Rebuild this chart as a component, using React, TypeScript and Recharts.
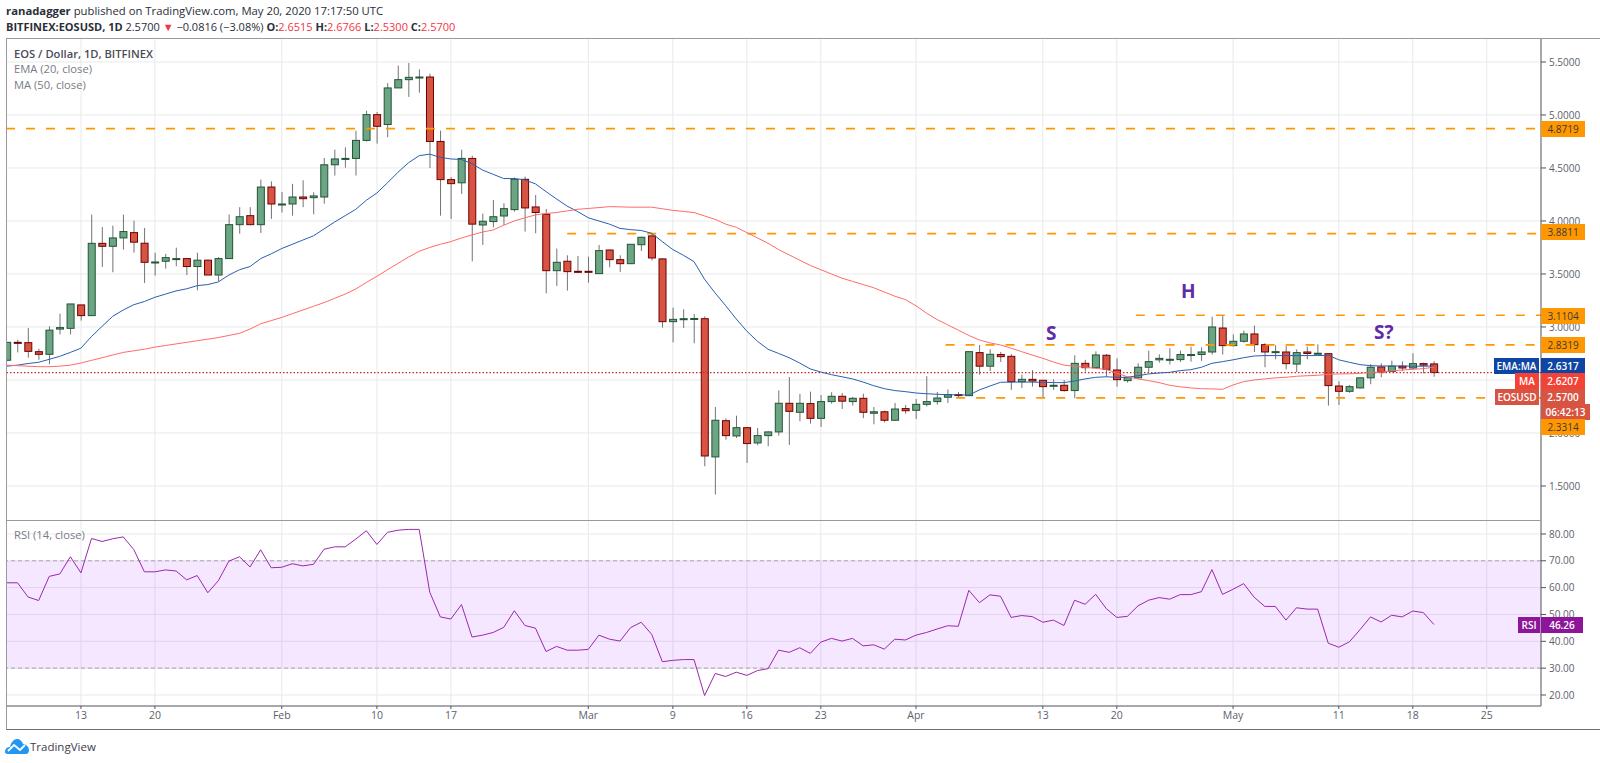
import { Bar, CartesianGrid, ComposedChart, Line, ReferenceArea, ReferenceLine, XAxis, YAxis } from "recharts";

// one row per ten days, first candle is Jan 6
const opens = [
  2.686, 2.855, 2.852, 2.767, 2.742, 2.98, 2.987, 3.208, 3.107, 3.789,
  3.761, 3.84, 3.89, 3.79, 3.61, 3.62, 3.645, 3.645, 3.57, 3.63,
  3.49, 3.645, 3.965, 4.05, 3.965, 4.32, 4.16, 4.16, 4.226, 4.22,
  4.226, 4.53, 4.585, 4.59, 4.76, 5.003, 4.91, 5.255, 5.333, 5.358,
  5.358, 4.75, 4.39, 4.36, 4.59, 3.962, 3.994, 4.047, 4.107, 4.393,
  4.132, 4.063, 3.531, 3.62, 3.525, 3.525, 3.503, 3.726, 3.635, 3.597,
  3.776, 3.859, 3.642, 3.05, 3.075, 3.08, 3.078, 1.774, 2.116, 1.972,
  2.05, 1.906, 1.975, 2.01, 2.28, 2.195, 2.277, 2.138, 2.296, 2.346,
  2.296, 2.327, 2.186, 2.2, 2.12, 2.23, 2.214, 2.27, 2.296, 2.337,
  2.362, 2.352, 2.758, 2.63, 2.74, 2.723, 2.484, 2.506, 2.497, 2.45,
  2.45, 2.40, 2.657, 2.616, 2.733, 2.594, 2.494, 2.52, 2.62, 2.69,
  2.695, 2.692, 2.737, 2.74, 2.764, 2.99, 2.824, 2.865, 2.934, 2.833,
  2.767, 2.764, 2.65, 2.764, 2.752, 2.748, 2.443, 2.393, 2.425, 2.52,
  2.623, 2.58, 2.63, 2.613, 2.654, 2.6515,
];
const highs = [
  2.855, 2.88, 2.99, 2.795, 3.006, 3.126, 3.217, 3.208, 4.06, 3.943,
  3.956, 4.06, 4.003, 3.934, 3.70, 3.69, 3.748, 3.645, 3.70, 3.635,
  3.66, 4.06, 4.13, 4.13, 4.39, 4.374, 4.274, 4.35, 4.384, 4.27,
  4.594, 4.673, 4.695, 4.852, 5.04, 5.028, 5.30, 5.465, 5.49, 5.43,
  5.39, 4.852, 4.415, 4.673, 4.616, 4.07, 4.198, 4.167, 4.41, 4.418,
  4.245, 4.113, 3.739, 3.676, 3.67, 3.663, 3.773, 3.73, 3.676, 3.78,
  3.852, 3.884, 3.648, 3.182, 3.167, 3.123, 3.10, 2.245, 2.138, 2.163,
  2.05, 2.047, 2.016, 2.40, 2.528, 2.368, 2.39, 2.358, 2.384, 2.377,
  2.34, 2.371, 2.245, 2.21, 2.283, 2.264, 2.32, 2.535, 2.387, 2.41,
  2.387, 2.767, 2.83, 2.79, 2.764, 2.745, 2.55, 2.594, 2.497, 2.506,
  2.50, 2.733, 2.69, 2.77, 2.745, 2.704, 2.525, 2.657, 2.777, 2.742,
  2.80, 2.777, 2.814, 2.808, 3.097, 3.104, 2.93, 2.965, 3.013, 2.846,
  2.827, 2.82, 2.789, 2.814, 2.836, 2.75, 2.487, 2.453, 2.525, 2.65,
  2.657, 2.682, 2.676, 2.752, 2.663, 2.6766,
];
const lows = [
  2.68, 2.76, 2.71, 2.69, 2.648, 2.93, 2.93, 3.06, 3.107, 3.566,
  3.516, 3.73, 3.70, 3.415, 3.484, 3.55, 3.572, 3.49, 3.346, 3.49,
  3.43, 3.645, 3.88, 3.96, 3.887, 4.02, 4.08, 4.05, 4.13, 4.063,
  4.163, 4.428, 4.503, 4.428, 4.75, 4.73, 4.79, 5.255, 5.17, 5.21,
  4.5, 4.05, 4.02, 4.255, 3.62, 3.773, 3.94, 3.962, 4.088, 3.9,
  3.884, 3.318, 3.387, 3.343, 3.51, 3.418, 3.5, 3.563, 3.519, 3.595,
  3.717, 3.626, 2.994, 2.855, 2.99, 2.846, 1.686, 1.42, 1.937, 1.953,
  1.717, 1.884, 1.874, 1.975, 1.887, 2.11, 2.088, 2.057, 2.277, 2.226,
  2.258, 2.14, 2.082, 2.10, 2.115, 2.182, 2.132, 2.25, 2.267, 2.283,
  2.34, 2.35, 2.55, 2.585, 2.67, 2.406, 2.424, 2.437, 2.327, 2.406,
  2.39, 2.327, 2.58, 2.61, 2.53, 2.437, 2.475, 2.51, 2.575, 2.664,
  2.645, 2.67, 2.673, 2.68, 2.74, 2.74, 2.815, 2.852, 2.764, 2.62,
  2.695, 2.6, 2.575, 2.695, 2.74, 2.258, 2.264, 2.38, 2.42, 2.46,
  2.525, 2.575, 2.582, 2.6, 2.563, 2.53,
];
const closes = [
  2.855, 2.85, 2.77, 2.742, 2.97, 2.994, 3.217, 3.107, 3.789, 3.761,
  3.84, 3.90, 3.80, 3.61, 3.613, 3.654, 3.645, 3.57, 3.63, 3.49,
  3.645, 3.965, 4.04, 3.965, 4.32, 4.16, 4.16, 4.226, 4.21, 4.236,
  4.53, 4.585, 4.59, 4.76, 5.003, 4.893, 5.255, 5.333, 5.355, 5.358,
  4.75, 4.39, 4.352, 4.59, 3.97, 3.997, 4.04, 4.116, 4.393, 4.123,
  4.08, 3.531, 3.61, 3.522, 3.516, 3.522, 3.72, 3.635, 3.597, 3.78,
  3.846, 3.651, 3.05, 3.072, 3.078, 3.08, 1.783, 2.12, 1.975, 2.05,
  1.90, 1.975, 2.01, 2.28, 2.204, 2.28, 2.138, 2.296, 2.346, 2.30,
  2.327, 2.195, 2.2, 2.12, 2.226, 2.21, 2.27, 2.296, 2.33, 2.362,
  2.355, 2.767, 2.63, 2.742, 2.72, 2.484, 2.506, 2.49, 2.437, 2.45,
  2.40, 2.657, 2.616, 2.736, 2.6, 2.503, 2.525, 2.62, 2.673, 2.704,
  2.695, 2.74, 2.74, 2.764, 3.0, 2.824, 2.865, 2.934, 2.833, 2.764,
  2.767, 2.654, 2.758, 2.75, 2.752, 2.447, 2.393, 2.437, 2.52, 2.62,
  2.575, 2.63, 2.613, 2.654, 2.64, 2.57,
];
const ema20 = [
  2.63, 2.64, 2.655, 2.667, 2.695, 2.723, 2.76, 2.80, 2.91, 3.006,
  3.10, 3.16, 3.21, 3.24, 3.28, 3.31, 3.34, 3.36, 3.39, 3.40,
  3.425, 3.49, 3.54, 3.57, 3.645, 3.69, 3.74, 3.78, 3.82, 3.86,
  3.925, 3.99, 4.05, 4.11, 4.195, 4.264, 4.36, 4.46, 4.55, 4.616,
  4.63, 4.60, 4.585, 4.58, 4.54, 4.48, 4.44, 4.40, 4.40, 4.387,
  4.35, 4.277, 4.207, 4.14, 4.088, 4.03, 4.0, 3.97, 3.93, 3.918,
  3.91, 3.884, 3.805, 3.73, 3.676, 3.616, 3.45, 3.32, 3.2, 3.075,
  2.96, 2.865, 2.79, 2.75, 2.71, 2.66, 2.604, 2.575, 2.55, 2.53,
  2.51, 2.48, 2.446, 2.418, 2.40, 2.39, 2.377, 2.37, 2.365, 2.36,
  2.36, 2.358, 2.406, 2.443, 2.478, 2.48, 2.48, 2.48, 2.478, 2.475,
  2.475, 2.49, 2.51, 2.525, 2.53, 2.525, 2.525, 2.54, 2.557, 2.566,
  2.572, 2.588, 2.597, 2.62, 2.657, 2.673, 2.69, 2.71, 2.726, 2.73,
  2.73, 2.73, 2.73, 2.73, 2.73, 2.733, 2.69, 2.667, 2.645, 2.635,
  2.632, 2.632, 2.632, 2.63, 2.63, 2.6317,
];
const ma50 = [
  2.64, 2.635, 2.63, 2.625, 2.625, 2.63, 2.64, 2.66, 2.685, 2.71,
  2.735, 2.76, 2.775, 2.79, 2.81, 2.825, 2.84, 2.855, 2.87, 2.885,
  2.90, 2.92, 2.94, 2.98, 3.03, 3.06, 3.09, 3.125, 3.16, 3.195,
  3.23, 3.27, 3.31, 3.358, 3.42, 3.478, 3.54, 3.60, 3.66, 3.714,
  3.75, 3.78, 3.805, 3.84, 3.868, 3.896, 3.915, 3.96, 4.0, 4.03,
  4.057, 4.07, 4.08, 4.095, 4.11, 4.118, 4.126, 4.135, 4.133, 4.13,
  4.13, 4.13, 4.115, 4.10, 4.09, 4.08, 4.047, 4.015, 3.97, 3.94,
  3.89, 3.84, 3.79, 3.73, 3.68, 3.63, 3.58, 3.54, 3.50, 3.46,
  3.43, 3.40, 3.37, 3.33, 3.29, 3.258, 3.2, 3.13, 3.07, 3.02,
  2.97, 2.92, 2.877, 2.85, 2.83, 2.80, 2.767, 2.735, 2.704, 2.67,
  2.64, 2.63, 2.62, 2.61, 2.60, 2.565, 2.53, 2.51, 2.494, 2.475,
  2.45, 2.435, 2.425, 2.418, 2.415, 2.412, 2.453, 2.484, 2.50, 2.51,
  2.52, 2.525, 2.535, 2.54, 2.544, 2.553, 2.557, 2.558, 2.563, 2.57,
  2.575, 2.585, 2.594, 2.60, 2.607, 2.6207,
];
const rsi14 = [
  61.8, 61.8, 56.5, 55.2, 64.2, 65.1, 71.5, 65.5, 78.3, 77.2,
  78.2, 78.9, 74.2, 65.9, 65.9, 66.6, 66.2, 62.9, 64.5, 58.1,
  62.6, 69.9, 71.5, 67.7, 74.1, 67.4, 67.6, 68.9, 68.1, 68.7,
  74.3, 75.2, 75.2, 78.1, 81.2, 76.1, 80.6, 81.4, 81.7, 81.7,
  58.3, 49.1, 48.3, 53.7, 41.6, 42.3, 43.3, 45.2, 51.4, 45.9,
  44.9, 36.2, 38.1, 36.7, 36.7, 37, 42.3, 40.8, 40.1, 45.1,
  47.1, 42.6, 32.4, 32.9, 33.2, 33.2, 19.8, 28, 26.9, 28.5,
  27.3, 29.1, 29.8, 36.7, 35.9, 37.6, 35.5, 39.7, 41.1, 40.1,
  41.1, 38.3, 38.7, 37.1, 40.8, 40.5, 42.3, 43.3, 44.6, 45.8,
  45.6, 59, 54.4, 57.3, 56.8, 48.9, 49.6, 49.2, 47.1, 47.9,
  45.9, 55.3, 53.8, 57.5, 52.2, 48.9, 49.3, 53.2, 55.3, 56.3,
  55.7, 57.4, 57.4, 58.5, 66.7, 57.5, 59.4, 61.5, 56.4, 53,
  53, 47.9, 52.5, 52, 52, 39.3, 37.8, 39.8, 44.3, 49.1,
  47.2, 49.7, 49.1, 51.3, 50.7, 46.26,
];

const timeTicks = [7, 14, 26, 35, 42, 55, 63, 70, 77, 86, 98, 105, 116, 126, 133, 140];
const timeLabels = ["13", "20", "Feb", "10", "17", "Mar", "9", "16", "23", "Apr", "13", "20", "May", "11", "18", "25"];
const priceTicks = [1.5, 2, 2.5, 3, 3.5, 4, 4.5, 5, 5.5];
const rsiTicks = [20, 30, 40, 50, 60, 70, 80];

const table = opens.map((open, day) => ({
  day,
  open,
  high: highs[day],
  low: lows[day],
  close: closes[day],
  ema: ema20[day],
  ma: ma50[day],
  rsi: rsi14[day],
}));

const FONT = "'Open Sans', sans-serif";
const DAY_DOMAIN: [number, number] = [-0.09, 145.13];
const AXIS_TICK = { fontSize: 10, fill: "#5d606b", fontFamily: FONT };
const DASH = { stroke: "#ff9800", strokeWidth: 1.7, strokeDasharray: "9 11" };

const Candle = (props: any) => {
  const { x, y, width, height, payload } = props;
  const top = Math.min(y, y + height);
  const span = Math.abs(height);
  const perPrice = span / (payload.high - payload.low);
  const up = payload.close >= payload.open;
  const bodyTop = top + (payload.high - Math.max(payload.open, payload.close)) * perPrice;
  const bodyHeight = Math.max(Math.abs(payload.close - payload.open) * perPrice, 1);
  const mid = x + width / 2;
  return (
    <g>
      <line x1={mid} x2={mid} y1={top} y2={top + span} stroke="#737375" strokeWidth={1} />
      <rect
        x={x}
        y={bodyTop}
        width={width}
        height={bodyHeight}
        fill={up ? "#6ba583" : "#d75442"}
        stroke={up ? "#225437" : "#6f0000"}
        strokeWidth={1}
      />
    </g>
  );
};

const Tag = ({ left, top, width, bg, color = "#fff", children }: any) => (
  <div
    style={{
      position: "absolute",
      left,
      top: top - 8,
      width,
      height: 16,
      lineHeight: "16px",
      background: bg,
      color,
      fontSize: 10,
      fontFamily: FONT,
      fontWeight: color === "#fff" ? 600 : 400,
      textAlign: "center",
    }}
  >
    {children}
  </div>
);

const Note = ({ left, top, size = 11.2, color = "#5d606b", weight = 400, children }: any) => (
  <div
    style={{
      position: "absolute",
      left,
      top: top - 10,
      lineHeight: "20px",
      fontSize: size,
      color,
      fontWeight: weight,
      fontFamily: FONT,
      whiteSpace: "pre",
    }}
  >
    {children}
  </div>
);

const Red = ({ children }: any) => <span style={{ color: "#f23645" }}>{children}</span>;

export default function App() {
  return (
    <div style={{ position: "absolute", left: 0, top: 0, width: 1600, height: 763, background: "#fff", overflow: "hidden" }}>
      <div style={{ position: "absolute", left: 0, top: 0 }}>
        <ComposedChart width={1600} height={520} data={table} margin={{ top: 38, right: 0, bottom: 0, left: 6 }}>
          <CartesianGrid stroke="#e9e9ea" verticalValues={timeTicks} horizontalValues={priceTicks} />
          <XAxis dataKey="day" type="number" hide domain={DAY_DOMAIN} ticks={timeTicks} allowDataOverflow />
          <YAxis
            orientation="right"
            width={59}
            domain={[1.179, 5.726]}
            ticks={priceTicks}
            interval={0}
            allowDataOverflow
            tickFormatter={(v: number) => (v === 2.5 ? "" : v.toFixed(4))}
            tick={AXIS_TICK}
            tickSize={5}
            tickMargin={3}
            axisLine={{ stroke: "#50535e" }}
            tickLine={{ stroke: "#50535e" }}
          />
          <ReferenceLine y={2.57} stroke="#c62828" strokeWidth={1.2} strokeDasharray="1.5 2" />
          <ReferenceLine segment={[{ x: -0.09, y: 4.8719 }, { x: 145.13, y: 4.8719 }]} {...DASH} />
          <ReferenceLine segment={[{ x: 53, y: 3.8811 }, { x: 145.13, y: 3.8811 }]} {...DASH} />
          <ReferenceLine segment={[{ x: 106.8, y: 3.1104 }, { x: 145.13, y: 3.1104 }]} {...DASH} />
          <ReferenceLine segment={[{ x: 88.8, y: 2.8319 }, { x: 145.13, y: 2.8319 }]} {...DASH} />
          <ReferenceLine segment={[{ x: 89.8, y: 2.3314 }, { x: 145.13, y: 2.3314 }]} {...DASH} />
          <Bar dataKey={(d: any) => [d.low, d.high]} barSize={7} shape={<Candle />} isAnimationActive={false} />
          <Line dataKey="ema" type="linear" stroke="#2a5fb0" strokeWidth={1} dot={false} activeDot={false} isAnimationActive={false} />
          <Line dataKey="ma" type="linear" stroke="#ff6b6b" strokeWidth={1} dot={false} activeDot={false} isAnimationActive={false} />
        </ComposedChart>
      </div>

      <div style={{ position: "absolute", left: 0, top: 520 }}>
        <ComposedChart width={1600} height={243} data={table} margin={{ top: 0, right: 0, bottom: 33, left: 6 }}>
          <CartesianGrid stroke="#e9e9ea" verticalValues={timeTicks} horizontalValues={rsiTicks} />
          <XAxis
            dataKey="day"
            type="number"
            domain={DAY_DOMAIN}
            ticks={timeTicks}
            interval={0}
            allowDataOverflow
            height={24}
            tickFormatter={(v: number) => timeLabels[timeTicks.indexOf(v)]}
            tick={{ ...AXIS_TICK, fontSize: 10.5 }}
            tickSize={3}
            tickMargin={3}
            axisLine={{ stroke: "#50535e" }}
            tickLine={{ stroke: "#50535e" }}
          />
          <YAxis
            orientation="right"
            width={59}
            domain={[15.9, 85.2]}
            ticks={rsiTicks}
            interval={0}
            allowDataOverflow
            tickFormatter={(v: number) => v.toFixed(2)}
            tick={AXIS_TICK}
            tickSize={5}
            tickMargin={3}
            axisLine={{ stroke: "#50535e" }}
            tickLine={{ stroke: "#50535e" }}
          />
          <ReferenceArea y1={30} y2={70} fill="#9915ff" fillOpacity={0.1} stroke="none" />
          <ReferenceLine y={70} stroke="#a9a3ae" strokeDasharray="4 3" />
          <ReferenceLine y={30} stroke="#a9a3ae" strokeDasharray="4 3" />
          <Line dataKey="rsi" type="linear" stroke="#9c27b0" strokeWidth={1} dot={false} activeDot={false} isAnimationActive={false} />
        </ComposedChart>
      </div>

      {/* frame of the two panels */}
      <div style={{ position: "absolute", left: 6, top: 38, width: 1594, height: 692, borderTop: "1px solid #9a9a9a", borderBottom: "1px solid #6f6f6f", borderLeft: "1px solid #9a9a9a", boxSizing: "border-box", pointerEvents: "none" }} />
      <div style={{ position: "absolute", left: 6, top: 520, width: 1535, height: 1, background: "#9a9a9a" }} />

      {/* publisher header */}
      <Note left={6} top={11} size={11.3} color="#2a2e39">
        <b>ranadagger</b> published on TradingView.com, May 20, 2020 17:17:50 UTC
      </Note>
      <Note left={6} top={27} size={11} color="#2a2e39">
        <b>BITFINEX:EOSUSD, 1D</b> 2.5700 <Red>▼</Red> −0.0816 (−3.08%) <b>O:</b><Red>2.6515</Red> <b>H:</b><Red>2.6766</Red> <b>L:</b><Red>2.5300</Red> <b>C:</b><Red>2.5700</Red>
      </Note>

      <Note left={14} top={54} color="#4a4d57" weight={600}>EOS / Dollar, 1D, BITFINEX</Note>
      <Note left={14} top={69} color="#787b86">EMA (20, close)</Note>
      <Note left={14} top={85} color="#787b86">MA (50, close)</Note>
      <Note left={14} top={535} color="#787b86">RSI (14, close)</Note>

      <Note left={1046} top={333} size={19} color="#5e2ca5" weight={700}>S</Note>
      <Note left={1181} top={291} size={19} color="#5e2ca5" weight={700}>H</Note>
      <Note left={1374} top={332} size={19} color="#5e2ca5" weight={700}>S?</Note>

      {/* price scale tags */}
      <Tag left={1541} top={129} width={44} bg="#ff9800" color="#3a3a3a">4.8719</Tag>
      <Tag left={1541} top={232} width={44} bg="#ff9800" color="#3a3a3a">3.8811</Tag>
      <Tag left={1541} top={316} width={44} bg="#ff9800" color="#3a3a3a">3.1104</Tag>
      <Tag left={1541} top={345} width={44} bg="#ff9800" color="#3a3a3a">2.8319</Tag>
      <Tag left={1494} top={366} width={45} bg="#0f46a3">EMA:MA</Tag>
      <Tag left={1541} top={366} width={44} bg="#0f46a3">2.6317</Tag>
      <Tag left={1515} top={381} width={24} bg="#f44336">MA</Tag>
      <Tag left={1541} top={381} width={44} bg="#f44336">2.6207</Tag>
      <Tag left={1495} top={397} width={44} bg="#d75442">EOSUSD</Tag>
      <Tag left={1541} top={397} width={44} bg="#d75442">2.5700</Tag>
      <Tag left={1541} top={412} width={49} bg="#d75442">06:42:13</Tag>
      <Tag left={1541} top={427} width={44} bg="#ff9800" color="#3a3a3a">2.3314</Tag>
      <Tag left={1518} top={625} width={22} bg="#8e1599">RSI</Tag>
      <Tag left={1541} top={625} width={42} bg="#8e1599">46.26</Tag>

      {/* TradingView mark */}
      <svg style={{ position: "absolute", left: 5, top: 739 }} width={24} height={15} viewBox="0 0 24 15">
        <path d="M0 13 C0 9 3 8 5 8 C6 3 9 0 12 0 C15 0 17 2 18 5 C21 5 24 8 24 11 C24 13 23 15 21 15 L3 15 C1 15 0 14 0 13 Z" fill="#2196f3" />
        <path d="M3 12 L9 6 L15 11 L20 6" fill="none" stroke="#fff" strokeWidth={1.8} />
      </svg>
      <Note left={30} top={747} size={11.5} color="#3d404b">TradingView</Note>
    </div>
  );
}
